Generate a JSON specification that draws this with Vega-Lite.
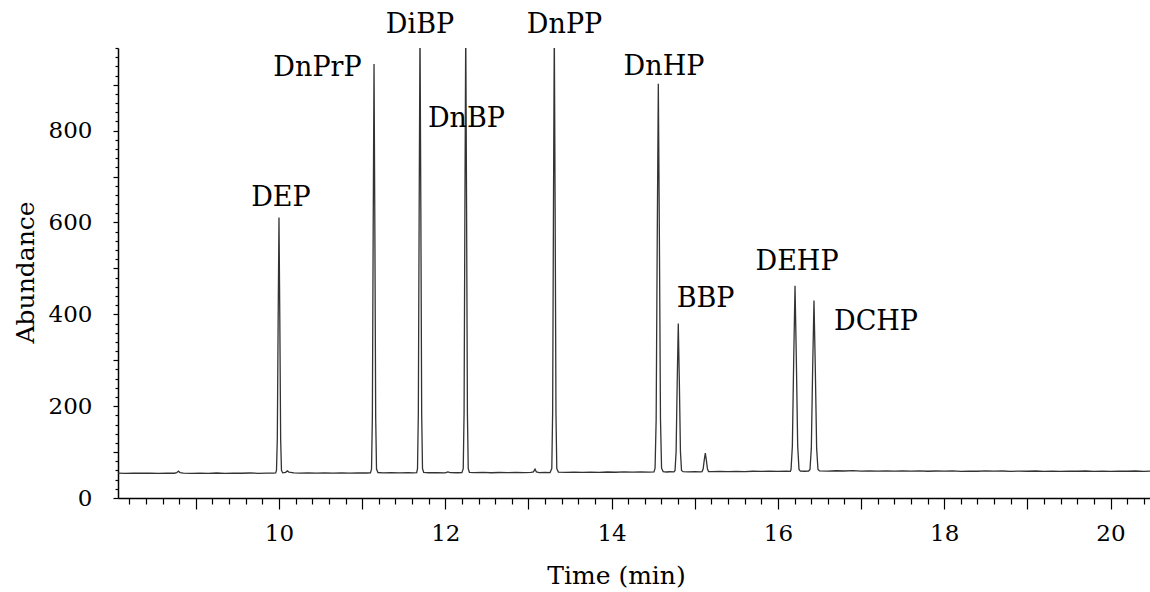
{
  "$schema": "https://vega.github.io/schema/vega-lite/v6.json",
  "width": 1032,
  "height": 450,
  "autosize": {"type": "none"},
  "padding": {"left": 118, "top": 48, "right": 0, "bottom": 94},
  "background": "white",
  "config": {
    "view": {"stroke": null},
    "font": "DejaVu Serif",
    "axis": {
      "domainColor": "#000000",
      "domainWidth": 1.5,
      "tickColor": "#000000",
      "tickWidth": 1.2,
      "labelColor": "#000000",
      "titleColor": "#000000",
      "labelFont": "DejaVu Serif",
      "titleFont": "DejaVu Serif",
      "titleFontWeight": "normal",
      "grid": false,
      "labelOverlap": false,
      "labelFlush": false
    }
  },
  "datasets": {
    "trace": [
      {"t": 8.064, "a": 54.1}, {"t": 8.15, "a": 53.7}, {"t": 8.25, "a": 54.3}, {"t": 8.35, "a": 53.9},
      {"t": 8.45, "a": 54.2}, {"t": 8.55, "a": 53.6}, {"t": 8.65, "a": 54.3}, {"t": 8.74, "a": 53.9},
      {"t": 8.77, "a": 55.2}, {"t": 8.79, "a": 58.5}, {"t": 8.81, "a": 55.4}, {"t": 8.85, "a": 54.0},
      {"t": 8.95, "a": 53.6}, {"t": 9.05, "a": 54.3}, {"t": 9.15, "a": 53.8}, {"t": 9.25, "a": 54.4},
      {"t": 9.35, "a": 53.7}, {"t": 9.45, "a": 54.2}, {"t": 9.55, "a": 53.9}, {"t": 9.65, "a": 54.4},
      {"t": 9.75, "a": 53.8}, {"t": 9.85, "a": 54.2}, {"t": 9.93, "a": 54.0}, {"t": 9.96, "a": 54.5},
      {"t": 9.97, "a": 60}, {"t": 9.98, "a": 129}, {"t": 9.99, "a": 388}, {"t": 10.0, "a": 611},
      {"t": 10.01, "a": 388}, {"t": 10.02, "a": 129}, {"t": 10.03, "a": 60}, {"t": 10.045, "a": 54.8},
      {"t": 10.08, "a": 56}, {"t": 10.1, "a": 59}, {"t": 10.12, "a": 56.5}, {"t": 10.18, "a": 54.8},
      {"t": 10.25, "a": 54.3}, {"t": 10.35, "a": 54.7}, {"t": 10.45, "a": 54.1}, {"t": 10.55, "a": 54.6},
      {"t": 10.65, "a": 54.2}, {"t": 10.75, "a": 54.8}, {"t": 10.85, "a": 54.3}, {"t": 10.95, "a": 54.7},
      {"t": 11.05, "a": 54.4}, {"t": 11.1, "a": 54.6},
      {"t": 11.113, "a": 63}, {"t": 11.123, "a": 175}, {"t": 11.133, "a": 588}, {"t": 11.143, "a": 945},
      {"t": 11.153, "a": 588}, {"t": 11.163, "a": 175}, {"t": 11.173, "a": 63}, {"t": 11.19, "a": 55.5},
      {"t": 11.25, "a": 54.6}, {"t": 11.35, "a": 55.0}, {"t": 11.45, "a": 54.5}, {"t": 11.55, "a": 55.1},
      {"t": 11.62, "a": 54.7}, {"t": 11.656, "a": 55},
      {"t": 11.666, "a": 64}, {"t": 11.676, "a": 185}, {"t": 11.686, "a": 634}, {"t": 11.696, "a": 1020},
      {"t": 11.706, "a": 634}, {"t": 11.716, "a": 185}, {"t": 11.726, "a": 64}, {"t": 11.74, "a": 56},
      {"t": 11.8, "a": 55.0}, {"t": 11.9, "a": 55.4}, {"t": 12.0, "a": 54.9}, {"t": 12.03, "a": 57},
      {"t": 12.06, "a": 55.2}, {"t": 12.15, "a": 55.0}, {"t": 12.2, "a": 55.2},
      {"t": 12.216, "a": 64}, {"t": 12.226, "a": 185}, {"t": 12.236, "a": 634}, {"t": 12.246, "a": 1020},
      {"t": 12.256, "a": 634}, {"t": 12.266, "a": 185}, {"t": 12.276, "a": 64}, {"t": 12.29, "a": 56},
      {"t": 12.35, "a": 55.1}, {"t": 12.45, "a": 55.6}, {"t": 12.55, "a": 55.0}, {"t": 12.65, "a": 55.5},
      {"t": 12.75, "a": 55.1}, {"t": 12.85, "a": 55.7}, {"t": 12.95, "a": 55.2}, {"t": 13.03, "a": 55.6},
      {"t": 13.06, "a": 57}, {"t": 13.079, "a": 63}, {"t": 13.095, "a": 57}, {"t": 13.13, "a": 55.4},
      {"t": 13.2, "a": 55.8}, {"t": 13.26, "a": 55.3},
      {"t": 13.281, "a": 64}, {"t": 13.291, "a": 185}, {"t": 13.301, "a": 634}, {"t": 13.311, "a": 1020},
      {"t": 13.321, "a": 634}, {"t": 13.331, "a": 185}, {"t": 13.341, "a": 64}, {"t": 13.36, "a": 56.5},
      {"t": 13.45, "a": 55.8}, {"t": 13.55, "a": 56.3}, {"t": 13.65, "a": 55.7}, {"t": 13.75, "a": 56.4},
      {"t": 13.85, "a": 56.0}, {"t": 13.95, "a": 56.6}, {"t": 14.05, "a": 56.1}, {"t": 14.15, "a": 56.8},
      {"t": 14.25, "a": 56.3}, {"t": 14.35, "a": 56.9}, {"t": 14.45, "a": 56.5}, {"t": 14.51, "a": 57.0},
      {"t": 14.523, "a": 65}, {"t": 14.536, "a": 171}, {"t": 14.549, "a": 564}, {"t": 14.562, "a": 902},
      {"t": 14.575, "a": 564}, {"t": 14.588, "a": 171}, {"t": 14.601, "a": 65}, {"t": 14.62, "a": 57.5},
      {"t": 14.66, "a": 56.6}, {"t": 14.7, "a": 57.2}, {"t": 14.75, "a": 56.8},
      {"t": 14.763, "a": 60}, {"t": 14.776, "a": 101}, {"t": 14.789, "a": 251}, {"t": 14.802, "a": 380},
      {"t": 14.815, "a": 251}, {"t": 14.828, "a": 101}, {"t": 14.841, "a": 60}, {"t": 14.86, "a": 57.3},
      {"t": 14.92, "a": 56.9}, {"t": 15.0, "a": 57.6}, {"t": 15.07, "a": 57.0},
      {"t": 15.088, "a": 57.5}, {"t": 15.101, "a": 63}, {"t": 15.114, "a": 82}, {"t": 15.127, "a": 98},
      {"t": 15.14, "a": 82}, {"t": 15.153, "a": 63}, {"t": 15.166, "a": 57.5}, {"t": 15.2, "a": 57.4},
      {"t": 15.3, "a": 57.9}, {"t": 15.4, "a": 57.3}, {"t": 15.5, "a": 58.1}, {"t": 15.6, "a": 57.6},
      {"t": 15.7, "a": 58.3}, {"t": 15.8, "a": 57.8}, {"t": 15.9, "a": 58.4}, {"t": 16.0, "a": 58.0},
      {"t": 16.1, "a": 58.5}, {"t": 16.15, "a": 58.2},
      {"t": 16.158, "a": 62}, {"t": 16.174, "a": 113}, {"t": 16.19, "a": 300}, {"t": 16.206, "a": 462},
      {"t": 16.222, "a": 300}, {"t": 16.238, "a": 113}, {"t": 16.254, "a": 62}, {"t": 16.27, "a": 58.6},
      {"t": 16.32, "a": 58.3}, {"t": 16.37, "a": 58.8},
      {"t": 16.386, "a": 62}, {"t": 16.402, "a": 108}, {"t": 16.418, "a": 281}, {"t": 16.434, "a": 430},
      {"t": 16.45, "a": 281}, {"t": 16.466, "a": 108}, {"t": 16.482, "a": 62}, {"t": 16.5, "a": 59.2},
      {"t": 16.6, "a": 58.6}, {"t": 16.7, "a": 59.3}, {"t": 16.8, "a": 58.8}, {"t": 16.9, "a": 59.4},
      {"t": 17.0, "a": 58.7}, {"t": 17.1, "a": 59.1}, {"t": 17.2, "a": 58.5}, {"t": 17.3, "a": 59.2},
      {"t": 17.4, "a": 58.6}, {"t": 17.5, "a": 59.0}, {"t": 17.6, "a": 58.4}, {"t": 17.7, "a": 58.9},
      {"t": 17.8, "a": 58.3}, {"t": 17.9, "a": 58.8}, {"t": 18.0, "a": 58.4}, {"t": 18.1, "a": 58.9},
      {"t": 18.2, "a": 58.2}, {"t": 18.3, "a": 58.7}, {"t": 18.4, "a": 58.3}, {"t": 18.5, "a": 58.9},
      {"t": 18.6, "a": 58.4}, {"t": 18.7, "a": 58.8}, {"t": 18.8, "a": 58.2}, {"t": 18.9, "a": 58.7},
      {"t": 19.0, "a": 58.3}, {"t": 19.1, "a": 58.8}, {"t": 19.2, "a": 58.1}, {"t": 19.3, "a": 58.6},
      {"t": 19.4, "a": 58.2}, {"t": 19.5, "a": 58.7}, {"t": 19.6, "a": 58.3}, {"t": 19.7, "a": 58.8},
      {"t": 19.8, "a": 58.2}, {"t": 19.9, "a": 58.6}, {"t": 20.0, "a": 58.1}, {"t": 20.1, "a": 58.7},
      {"t": 20.2, "a": 58.3}, {"t": 20.3, "a": 58.8}, {"t": 20.4, "a": 58.2}, {"t": 20.475, "a": 58.5}
    ],
    "labels": [
      {"name": "DEP", "t": 10.024, "a": 636},
      {"name": "DnPrP", "t": 10.463, "a": 920},
      {"name": "DiBP", "t": 11.696, "a": 1013},
      {"name": "DnBP", "t": 12.255, "a": 809},
      {"name": "DnPP", "t": 13.434, "a": 1013},
      {"name": "DnHP", "t": 14.63, "a": 922},
      {"name": "BBP", "t": 15.13, "a": 417},
      {"name": "DEHP", "t": 16.23, "a": 497},
      {"name": "DCHP", "t": 17.18, "a": 366}
    ]
  },
  "layer": [
    {
      "data": {"name": "trace"},
      "mark": {"type": "line", "color": "#333333", "strokeWidth": 1.3, "clip": true, "interpolate": "linear"},
      "encoding": {
        "x": {
          "field": "t", "type": "quantitative",
          "scale": {"domain": [8.064, 20.475], "nice": false, "zero": false},
          "axis": {
            "title": "Time (min)",
            "titleFontSize": 25,
            "titleX": 498,
            "titleY": 85,
            "titleBaseline": "alphabetic",
            "titleAlign": "center",
            "titleAnchor": null,
            "tickCount": 200,
            "values": [8.2, 8.4, 8.6, 8.8, 9, 9.2, 9.4, 9.6, 9.8, 10, 10.2, 10.4, 10.6, 10.8, 11, 11.2, 11.4, 11.6, 11.8, 12, 12.2, 12.4, 12.6, 12.8, 13, 13.2, 13.4, 13.6, 13.8, 14, 14.2, 14.4, 14.6, 14.8, 15, 15.2, 15.4, 15.6, 15.8, 16, 16.2, 16.4, 16.6, 16.8, 17, 17.2, 17.4, 17.6, 17.8, 18, 18.2, 18.4, 18.6, 18.8, 19, 19.2, 19.4, 19.6, 19.8, 20, 20.2, 20.4],
            "tickSize": {"condition": {"test": "abs(datum.value - round(datum.value)) < 0.01", "value": 11}, "value": 6},
            "labelExpr": "abs(datum.value / 2 - round(datum.value / 2)) < 0.01 ? format(datum.value, 'd') : ''",
            "labelFontSize": 23,
            "labelBaseline": "alphabetic",
            "labelPadding": 31
          }
        },
        "y": {
          "field": "a", "type": "quantitative",
          "scale": {"domain": [0, 980], "nice": false},
          "axis": {
            "title": "Abundance",
            "titleFontSize": 25,
            "titleAngle": -90,
            "titleX": -85,
            "titleY": 224,
            "titleBaseline": "alphabetic",
            "titleAlign": "center",
            "titleAnchor": null,
            "tickCount": 200,
            "values": [0, 20, 40, 60, 80, 100, 120, 140, 160, 180, 200, 220, 240, 260, 280, 300, 320, 340, 360, 380, 400, 420, 440, 460, 480, 500, 520, 540, 560, 580, 600, 620, 640, 660, 680, 700, 720, 740, 760, 780, 800, 820, 840, 860, 880, 900, 920, 940, 960, 980],
            "tickSize": {"condition": {"test": "datum.value % 100 === 0", "value": 5}, "value": 3},
            "labelExpr": "datum.value % 200 === 0 ? format(datum.value, 'd') : ''",
            "labelFontSize": 23,
            "labelPadding": 21
          }
        }
      }
    },
    {
      "data": {"name": "labels"},
      "mark": {"type": "text", "font": "DejaVu Serif", "fontSize": 27, "align": "center", "baseline": "alphabetic", "color": "#000000", "clip": false},
      "encoding": {
        "x": {"field": "t", "type": "quantitative"},
        "y": {"field": "a", "type": "quantitative"},
        "text": {"field": "name", "type": "nominal"}
      }
    }
  ]
}
